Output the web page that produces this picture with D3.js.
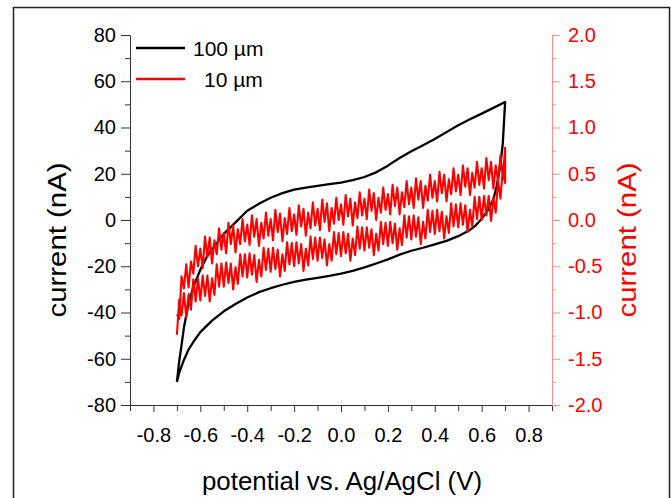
<!DOCTYPE html>
<html>
<head>
<meta charset="utf-8">
<script src="https://cdn.jsdelivr.net/npm/d3@7"></script>
<style>
  body { margin: 0; background: #fff; }
  svg { display: block; font-family: "Liberation Sans", Arial, sans-serif; }
</style>
</head>
<body>
<svg id="chart" width="671" height="498"></svg>
<script>
// 100 um electrode, forward (upper) and reverse (lower) sweep, left axis (nA)
const potential100Fwd = [-0.70,-0.69,-0.68,-0.67,-0.65,-0.63,-0.60,-0.57,-0.53,-0.50,-0.45,-0.40,-0.35,-0.30,-0.25,-0.20,-0.15,-0.10,-0.05,0.00,0.05,0.10,0.15,0.20,0.25,0.30,0.35,0.40,0.45,0.50,0.55,0.60,0.65,0.70];
const current100Fwd = [-70,-61,-54,-46.5,-36,-29,-21.5,-15.5,-10,-6,-1,4,7,9.6,11.6,13.1,14,14.8,15.5,16.2,17.2,18.6,20.6,23.5,26.8,29.7,32.3,35,38,41,43.6,46,48.5,51];
const potential100Rev = [0.70,0.69,0.68,0.665,0.65,0.625,0.60,0.575,0.55,0.50,0.45,0.40,0.35,0.30,0.25,0.20,0.15,0.10,0.05,0.00,-0.05,-0.10,-0.15,-0.20,-0.25,-0.30,-0.35,-0.40,-0.45,-0.50,-0.55,-0.60,-0.625,-0.65,-0.67,-0.69,-0.70];
const current100Rev = [51,33,24,15,9,4,0.5,-2.3,-4.3,-7,-9,-10.5,-12,-13.3,-15,-17,-18.8,-20.5,-22,-23.2,-24.2,-25,-25.8,-26.8,-28,-29.5,-31.2,-33.5,-36.3,-39.5,-43.5,-48.5,-52,-56,-60.5,-66,-70];

// 10 um electrode, sampled every 10 mV from -0.70 V to 0.70 V, right axis (nA)
const potential10 = d3.range(-70, 71).map(k => k / 100);
const current10Fwd = [
  -1.02,-1.07,-0.61,-0.74,-0.48,-0.73,-0.45,-0.58,-0.28,-0.50,
  -0.31,-0.52,-0.18,-0.40,-0.19,-0.47,-0.22,-0.37,-0.09,-0.32,
  -0.14,-0.36,-0.03,-0.26,-0.06,-0.35,-0.10,-0.26,0.01,-0.23,
  -0.05,-0.27,0.05,-0.18,0.01,-0.28,-0.03,-0.20,0.08,-0.17,
  0.01,-0.22,0.11,-0.13,0.07,-0.23,0.02,-0.15,0.13,-0.12,
  0.06,-0.16,0.16,-0.07,0.12,-0.17,0.08,-0.09,0.19,-0.06,
  0.12,-0.11,0.22,-0.02,0.18,-0.12,0.13,-0.04,0.24,0.00,
  0.17,-0.05,0.27,0.04,0.23,-0.06,0.19,0.02,0.30,0.05,
  0.23,0.01,0.33,0.10,0.29,0.00,0.24,0.08,0.35,0.11,
  0.28,0.06,0.38,0.15,0.35,0.06,0.30,0.14,0.42,0.17,
  0.35,0.13,0.45,0.22,0.42,0.13,0.37,0.21,0.49,0.24,
  0.42,0.20,0.52,0.29,0.49,0.20,0.44,0.28,0.56,0.31,
  0.49,0.27,0.59,0.36,0.56,0.27,0.51,0.35,0.63,0.38,
  0.56,0.34,0.67,0.43,0.63,0.34,0.59,0.42,0.70,0.45,
  0.78];
// reverse sweep, listed from 0.70 V back to -0.70 V
const current10Rev = [
  0.40,0.54,0.23,0.43,0.08,0.24,-0.01,0.26,0.05,0.26,
  0.00,0.25,0.01,0.25,-0.07,0.11,-0.13,0.16,-0.05,0.18,
  -0.08,0.17,-0.07,0.18,-0.14,0.04,-0.20,0.09,-0.12,0.11,
  -0.15,0.10,-0.13,0.11,-0.20,-0.02,-0.26,0.03,-0.18,0.05,
  -0.21,0.04,-0.19,0.05,-0.27,-0.09,-0.32,-0.04,-0.25,-0.02,
  -0.28,-0.03,-0.26,-0.02,-0.33,-0.15,-0.38,-0.10,-0.30,-0.08,
  -0.33,-0.08,-0.31,-0.07,-0.38,-0.20,-0.44,-0.15,-0.36,-0.13,
  -0.39,-0.14,-0.37,-0.13,-0.44,-0.26,-0.49,-0.21,-0.41,-0.19,
  -0.44,-0.19,-0.42,-0.18,-0.49,-0.31,-0.55,-0.26,-0.47,-0.24,
  -0.50,-0.25,-0.48,-0.24,-0.55,-0.37,-0.61,-0.32,-0.53,-0.30,
  -0.56,-0.31,-0.54,-0.30,-0.61,-0.43,-0.67,-0.38,-0.59,-0.36,
  -0.62,-0.37,-0.61,-0.37,-0.69,-0.51,-0.75,-0.47,-0.68,-0.46,
  -0.72,-0.47,-0.72,-0.48,-0.81,-0.63,-0.88,-0.60,-0.82,-0.60,
  -0.87,-0.63,-0.88,-0.64,-0.97,-0.80,-1.05,-0.79,-1.03,-0.86,
  -1.24];

// ticks
const xMajor = [-0.8,-0.6,-0.4,-0.2,0.0,0.2,0.4,0.6,0.8];
const xMinor = [-0.9,-0.7,-0.5,-0.3,-0.1,0.1,0.3,0.5,0.7,0.9];
const yLeftMajor = [-80,-60,-40,-20,0,20,40,60,80];
const yLeftMinor = [-70,-50,-30,-10,10,30,50,70];
const yRightMajor = [-2.0,-1.5,-1.0,-0.5,0.0,0.5,1.0,1.5,2.0];
const yRightMinor = [-1.75,-1.25,-0.75,-0.25,0.25,0.75,1.25,1.75];

const legendLabels = ["100 \u00b5m", "10 \u00b5m"];
const seriesColors = ["#000000", "#ff0000"];

const svg = d3.select("#chart");
const plot = { left: 130, right: 552, top: 35, bottom: 405 };

// outer frame
svg.append("rect")
  .attr("x", 13.5).attr("y", 7.5)
  .attr("width", 656).attr("height", 500)
  .attr("fill", "none").attr("stroke", "#222").attr("stroke-width", 1.5);

const x = d3.scaleLinear().domain([-0.9, 0.9]).range([plot.left, plot.right]);
const yL = d3.scaleLinear().domain([-80, 80]).range([plot.bottom, plot.top]);
const yR = d3.scaleLinear().domain([-2, 2]).range([plot.bottom, plot.top]);

function styleAxis(g, color, lineColor, size) {
  g.selectAll(".domain").attr("stroke", lineColor);
  g.selectAll(".tick line").attr("stroke", lineColor);
  g.selectAll("text").attr("fill", color).style("font-size", size + "px");
}

// bottom axis
svg.append("g").attr("transform", `translate(0,${plot.bottom})`)
  .call(d3.axisBottom(x).tickValues(xMinor).tickSize(6).tickFormat("").tickSizeOuter(0))
  .call(g => styleAxis(g, "#000", "#333", 20));
svg.append("g").attr("transform", `translate(0,${plot.bottom})`)
  .call(d3.axisBottom(x).tickValues(xMajor).tickSize(7).tickPadding(16).tickSizeOuter(0)
    .tickFormat(d => d.toFixed(1)))
  .call(g => styleAxis(g, "#000", "#333", 20));

// left axis
svg.append("g").attr("transform", `translate(${plot.left},0)`)
  .call(d3.axisLeft(yL).tickValues(yLeftMinor).tickSize(5).tickFormat("").tickSizeOuter(0))
  .call(g => styleAxis(g, "#000", "#333", 20));
svg.append("g").attr("transform", `translate(${plot.left},0)`)
  .call(d3.axisLeft(yL).tickValues(yLeftMajor).tickSize(9).tickPadding(5).tickSizeOuter(0)
    .tickFormat(d => String(d)))
  .call(g => styleAxis(g, "#000", "#333", 20));

// right axis
svg.append("g").attr("transform", `translate(${plot.right},0)`)
  .call(d3.axisRight(yR).tickValues(yRightMinor).tickSize(4).tickFormat("").tickSizeOuter(0))
  .call(g => styleAxis(g, "#ff0000", "#ff8c8c", 20));
svg.append("g").attr("transform", `translate(${plot.right},0)`)
  .call(d3.axisRight(yR).tickValues(yRightMajor).tickSize(8).tickPadding(8).tickSizeOuter(0)
    .tickFormat(d => d.toFixed(1)))
  .call(g => styleAxis(g, "#ff0000", "#ff8c8c", 20));

// axis titles
svg.append("text")
  .attr("transform", "translate(66,240) rotate(-90)")
  .attr("text-anchor", "middle")
  .attr("textLength", 155).attr("lengthAdjust", "spacingAndGlyphs")
  .style("font-size", "26px").attr("fill", "#000")
  .text("current (nA)");
svg.append("text")
  .attr("transform", "translate(636,240) rotate(-90)")
  .attr("text-anchor", "middle")
  .attr("textLength", 155).attr("lengthAdjust", "spacingAndGlyphs")
  .style("font-size", "26px").attr("fill", "#ff0000")
  .text("current (nA)");
svg.append("text")
  .attr("x", 342).attr("y", 490)
  .attr("text-anchor", "middle")
  .attr("textLength", 280).attr("lengthAdjust", "spacingAndGlyphs")
  .style("font-size", "26px").attr("fill", "#000")
  .text("potential vs. Ag/AgCl (V)");

// curves
const lineL = d3.line().x(d => x(d[0])).y(d => yL(d[1]));
const lineR = d3.line().x(d => x(d[0])).y(d => yR(d[1]));

const black = potential100Fwd.map((p, i) => [p, current100Fwd[i]])
  .concat(potential100Rev.map((p, i) => [p, current100Rev[i]]));
const potential10Rev = potential10.slice().reverse();
const red = potential10.map((p, i) => [p, current10Fwd[i]])
  .concat(potential10Rev.map((p, i) => [p, current10Rev[i]]));

svg.append("path").datum(black)
  .attr("fill", "none").attr("stroke", seriesColors[0])
  .attr("stroke-width", 2.3).attr("stroke-linejoin", "round")
  .attr("d", lineL);

svg.append("path").datum(red)
  .attr("fill", "none").attr("stroke", seriesColors[1])
  .attr("stroke-width", 2.1).attr("stroke-linejoin", "round")
  .attr("d", lineR);

// legend
const legend = svg.append("g");
legendLabels.forEach((label, i) => {
  const ly = 48 + i * 31;
  legend.append("line")
    .attr("x1", 136).attr("x2", 185).attr("y1", ly).attr("y2", ly)
    .attr("stroke", seriesColors[i]).attr("stroke-width", 2.7);
  legend.append("text")
    .attr("x", i === 0 ? 193 : 204).attr("y", ly + 8)
    .style("font-size", "21px").attr("fill", "#000")
    .text(label);
});
</script>
</body>
</html>
